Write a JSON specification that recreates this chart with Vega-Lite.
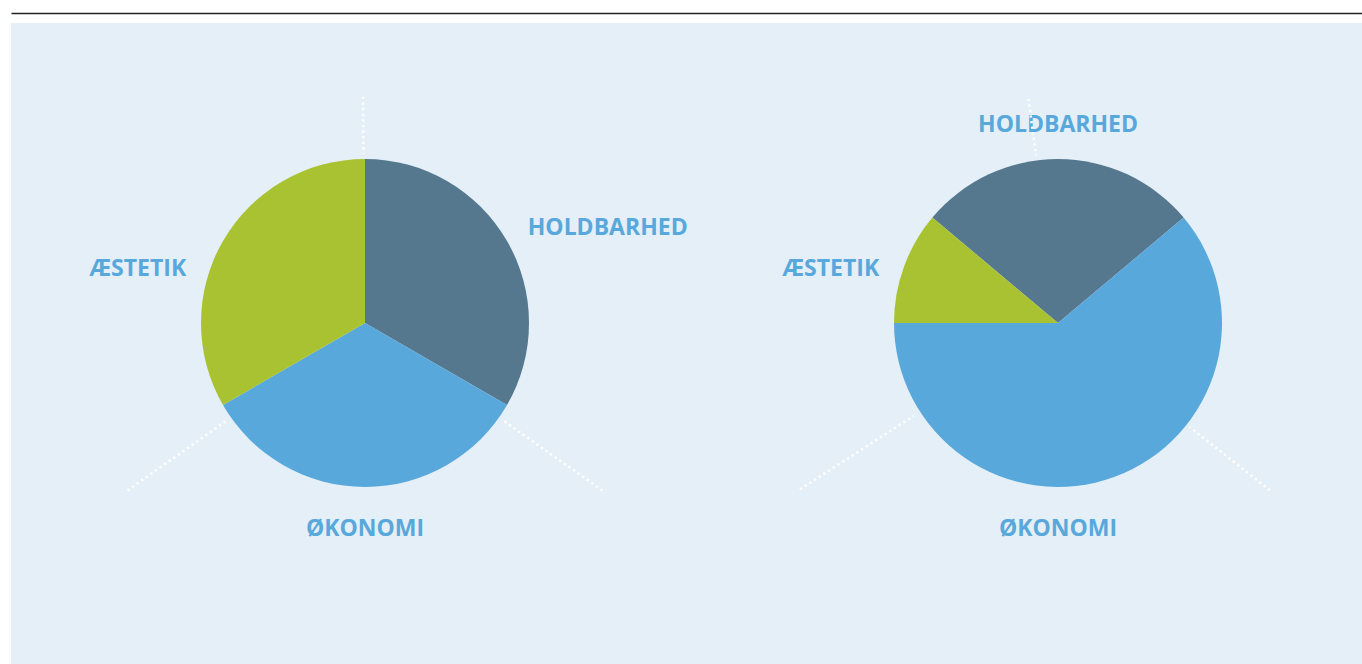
{
  "$schema": "https://vega.github.io/schema/vega-lite/v6.json",
  "width": 1351,
  "height": 641,
  "autosize": {"type": "none"},
  "padding": {"left": 11, "top": 23, "right": 0, "bottom": 0},
  "background": "#ffffff",
  "config": {
    "view": {"fill": "#e4eff8", "stroke": null},
    "font": "Open Sans"
  },
  "datasets": {
    "slices": [
      {"chart": "A", "category": "HOLDBARHED", "value": 6, "idx": 1},
      {"chart": "A", "category": "ØKONOMI", "value": 6, "idx": 2},
      {"chart": "A", "category": "ÆSTETIK", "value": 6, "idx": 3},
      {"chart": "B", "category": "HOLDBARHED", "value": 5, "idx": 1},
      {"chart": "B", "category": "ØKONOMI", "value": 11, "idx": 2},
      {"chart": "B", "category": "ÆSTETIK", "value": 2, "idx": 3}
    ],
    "guides": [
      {"chart": "A", "kind": "top", "at": 359.5},
      {"chart": "A", "kind": "bottomA", "at": 125.2},
      {"chart": "A", "kind": "bottomA", "at": 234.8},
      {"chart": "B", "kind": "top", "at": 352.5},
      {"chart": "B", "kind": "bottomBR", "at": 128.3},
      {"chart": "B", "kind": "bottomBL", "at": 237.2}
    ]
  },
  "encoding": {
    "x": {
      "field": "chart",
      "type": "nominal",
      "scale": {"type": "point", "domain": ["A", "B"], "padding": 0.47475, "align": 0.538},
      "axis": {
        "orient": "top",
        "offset": 10,
        "domain": true,
        "domainColor": "#222222",
        "domainWidth": 1.5,
        "ticks": false,
        "labels": false,
        "grid": false,
        "title": null
      }
    },
    "y": {
      "datum": "c",
      "type": "nominal",
      "scale": {"type": "point", "domain": ["c"], "align": 0.468},
      "axis": null
    }
  },
  "layer": [
    {
      "data": {"name": "slices"},
      "transform": [{"filter": "datum.chart === 'A'"}],
      "mark": {"type": "arc", "radius": 164, "stroke": null},
      "encoding": {
        "theta": {"field": "value", "type": "quantitative", "stack": true, "scale": {"range": [0, 6.283185]}},
        "order": {"field": "idx", "type": "quantitative"},
        "color": {
          "field": "category",
          "type": "nominal",
          "scale": {"domain": ["HOLDBARHED", "ØKONOMI", "ÆSTETIK"], "range": ["#55788f", "#59a8db", "#a9c232"]},
          "legend": null
        }
      }
    },
    {
      "data": {"name": "slices"},
      "transform": [{"filter": "datum.chart === 'B'"}],
      "mark": {"type": "arc", "radius": 164, "stroke": null},
      "encoding": {
        "theta": {"field": "value", "type": "quantitative", "stack": true, "scale": {"range": [-0.872665, 5.41052]}},
        "order": {"field": "idx", "type": "quantitative"},
        "color": {"field": "category", "type": "nominal", "legend": null}
      }
    },
    {
      "data": {"name": "slices"},
      "transform": [{"filter": "datum.category === 'ØKONOMI'"}],
      "mark": {"type": "text", "font": "Open Sans", "fontWeight": "bold", "fontSize": 23, "color": "#59a8db", "align": "center", "baseline": "middle", "dy": 1.5},
      "encoding": {
        "text": {"field": "category"},
        "theta": {"value": 3.14159},
        "radius": {"value": 205}
      }
    },
    {
      "data": {"name": "slices"},
      "transform": [{"filter": "datum.category === 'ÆSTETIK'"}],
      "mark": {"type": "text", "font": "Open Sans", "fontWeight": "bold", "fontSize": 23, "color": "#59a8db", "align": "center", "baseline": "middle", "dy": 1.5},
      "encoding": {
        "text": {"field": "category"},
        "theta": {"value": 4.952},
        "radius": {"value": 234}
      }
    },
    {
      "data": {"name": "slices"},
      "transform": [{"filter": "datum.category === 'HOLDBARHED' && datum.chart === 'A'"}],
      "mark": {"type": "text", "font": "Open Sans", "fontWeight": "bold", "fontSize": 23, "color": "#59a8db", "align": "center", "baseline": "middle", "dy": 1.5},
      "encoding": {
        "text": {"field": "category"},
        "theta": {"value": 1.194},
        "radius": {"value": 261}
      }
    },
    {
      "data": {"name": "slices"},
      "transform": [{"filter": "datum.category === 'HOLDBARHED' && datum.chart === 'B'"}],
      "mark": {"type": "text", "font": "Open Sans", "fontWeight": "bold", "fontSize": 23, "color": "#59a8db", "align": "center", "baseline": "middle", "dy": 1.5},
      "encoding": {
        "text": {"field": "category"},
        "theta": {"value": 0},
        "radius": {"value": 199}
      }
    },
    {
      "data": {"name": "guides"},
      "transform": [{"filter": "datum.kind === 'top'"}],
      "mark": {"type": "arc", "filled": false, "stroke": "#ffffff", "strokeWidth": 2.5, "strokeDash": [2.2, 3.4], "strokeCap": "butt", "radius": 226.1, "radius2": 169},
      "encoding": {
        "theta": {"field": "at", "type": "quantitative", "stack": null, "scale": {"domain": [0, 360], "range": [0, 6.283185]}},
        "theta2": {"field": "at"}
      }
    },
    {
      "data": {"name": "guides"},
      "transform": [{"filter": "datum.kind === 'bottomA'"}],
      "mark": {"type": "arc", "filled": false, "stroke": "#ffffff", "strokeWidth": 2.5, "strokeDash": [2.2, 3.4], "strokeCap": "butt", "radius": 290.5, "radius2": 169},
      "encoding": {
        "theta": {"field": "at", "type": "quantitative", "stack": null, "scale": {"domain": [0, 360], "range": [0, 6.283185]}},
        "theta2": {"field": "at"}
      }
    },
    {
      "data": {"name": "guides"},
      "transform": [{"filter": "datum.kind === 'bottomBR'"}],
      "mark": {"type": "arc", "filled": false, "stroke": "#ffffff", "strokeWidth": 2.5, "strokeDash": [2.2, 3.4], "strokeCap": "butt", "radius": 269.9, "radius2": 168},
      "encoding": {
        "theta": {"field": "at", "type": "quantitative", "stack": null, "scale": {"domain": [0, 360], "range": [0, 6.283185]}},
        "theta2": {"field": "at"}
      }
    },
    {
      "data": {"name": "guides"},
      "transform": [{"filter": "datum.kind === 'bottomBL'"}],
      "mark": {"type": "arc", "filled": false, "stroke": "#ffffff", "strokeWidth": 2.5, "strokeDash": [2.2, 3.4], "strokeCap": "butt", "radius": 307, "radius2": 171.5},
      "encoding": {
        "theta": {"field": "at", "type": "quantitative", "stack": null, "scale": {"domain": [0, 360], "range": [0, 6.283185]}},
        "theta2": {"field": "at"}
      }
    }
  ],
  "resolve": {"scale": {"theta": "independent"}}
}
